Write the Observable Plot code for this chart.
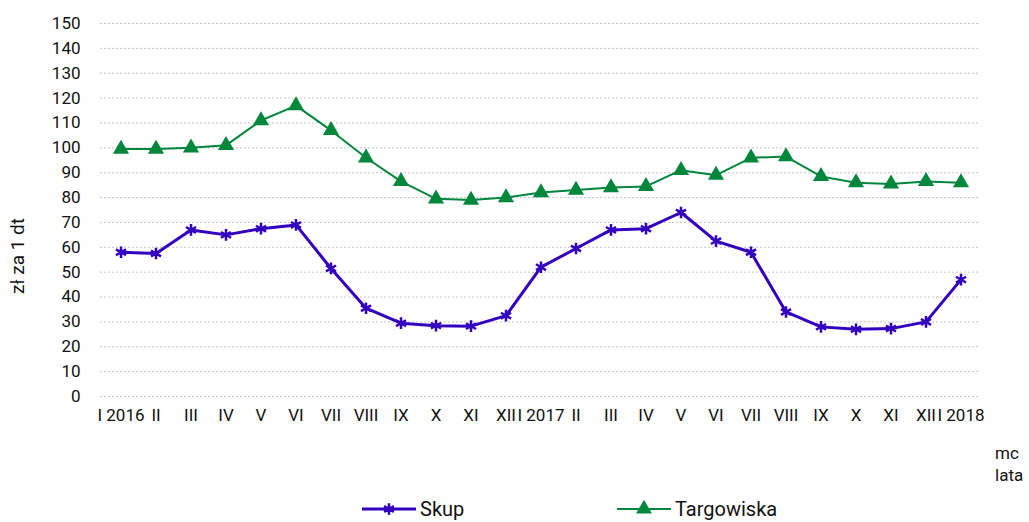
<!DOCTYPE html>
<html><head><meta charset="utf-8">
<script src="https://cdn.jsdelivr.net/npm/d3@7"></script>
<script src="https://cdn.jsdelivr.net/npm/@observablehq/plot@0.6"></script>
<style>
body{margin:0;background:#fff;font-family:Roboto,"Noto Sans",sans-serif;}
#wrap{position:relative;width:1029px;height:522px;}
#chart svg{font-size:17px !important;}
#chart svg g[aria-label$="axis tick label"] text{font-size:17px;fill:#111;}
#legend{position:absolute;left:0;top:494px;width:1029px;height:30px;font-size:20px;color:#111;}
.item{position:absolute;top:0;display:flex;align-items:center;height:30px;}
</style></head>
<body><div id="wrap"><div id="chart"></div><div id="legend"></div></div>
<script>
const months = ["I 2016","II","III","IV","V","VI","VII","VIII","IX","X","XI","XII",
  "I 2017","II","III","IV","V","VI","VII","VIII","IX","X","XI","XII","I 2018"];
const skup = [58,57.5,67,65,67.5,69,51.5,35.5,29.5,28.5,28.3,32.5,
  52,59.5,67,67.5,74,62.5,58,34,28,27,27.3,30,47];
const targowiska = [99.5,99.5,100,101,111,117,107,96,86.5,79.5,79,80,
  82,83,84,84.5,91,89,96,96.5,88.5,86,85.5,86.5,86];
const yTicks = d3.range(0,151,10);
const seriesNames = ["Skup","Targowiska"];
const colors = ["#3300c0","#00873c"];

const data = [];
months.forEach((m,i)=>{
  data.push({i, v: skup[i], s: seriesNames[0]});
  data.push({i, v: targowiska[i], s: seriesNames[1]});
});
const skupData = data.filter(d=>d.s==="Skup");
const targData = data.filter(d=>d.s==="Targowiska");

const chart = Plot.plot({
  width: 1029,
  height: 480,
  marginLeft: 100,
  marginRight: 49,
  marginTop: 23,
  marginBottom: 84,
  style: {fontFamily: "Roboto, 'Noto Sans', sans-serif", fontSize: "17px", color: "#111", overflow: "visible"},
  x: {type: "band", domain: d3.range(months.length), padding: 0},
  y: {domain: [0,150]},
  marks: [
    Plot.ruleY(yTicks, {stroke: "#c4c4c4", strokeDasharray: "2,2", strokeWidth: 1}),
    Plot.axisY({ticks: yTicks, tickSize: 0, tickPadding: 20, label: null, fontSize: 17}),
    Plot.axisX({tickSize: 0, tickPadding: 12, tickFormat: i => months[i], label: null, fontSize: 17}),
    Plot.line(targData, {x: "i", y: "v", stroke: colors[1], strokeWidth: 2}),
    Plot.dot(targData, {x: "i", y: "v", symbol: "triangle", fill: colors[1], r: 6}),
    Plot.line(skupData, {x: "i", y: "v", stroke: colors[0], strokeWidth: 3}),
    Plot.dot(skupData, {x: "i", y: "v", symbol: "asterisk", stroke: colors[0], strokeWidth: 2.5, r: 5.5})
  ]
});
document.getElementById("chart").appendChild(chart);

const svg = d3.select(chart);
svg.append("text").attr("transform","translate(24,256) rotate(-90)")
  .attr("text-anchor","middle").style("font-size","19px").attr("fill","#111").text("zł za 1 dt");
svg.append("text").attr("x",995).attr("y",459).attr("text-anchor","start").style("font-size","17px").attr("fill","#111").text("mc");
svg.append("text").attr("x",995).attr("y",481).attr("text-anchor","start").style("font-size","17px").attr("fill","#111").text("lata");

// legend
const legend = d3.select("#legend");
const items = [
  {name: seriesNames[0], color: colors[0], left: 362, sym: "asterisk"},
  {name: seriesNames[1], color: colors[1], left: 617, sym: "triangle"}
];
items.forEach(it=>{
  const div = legend.append("div").attr("class","item").style("left", it.left+"px");
  const s = div.append("svg").attr("width",54).attr("height",30);
  s.append("line").attr("x1",0).attr("x2",54).attr("y1",15).attr("y2",15)
    .attr("stroke",it.color).attr("stroke-width", it.sym==="asterisk"?3:2);
  const sym = it.sym==="asterisk" ? d3.symbolAsterisk : d3.symbolTriangle;
  const p = d3.symbol(sym, it.sym==="asterisk"?90:110)();
  s.append("path").attr("d",p).attr("transform","translate(27,15)")
    .attr("fill", it.sym==="asterisk"?"none":it.color)
    .attr("stroke", it.sym==="asterisk"?it.color:"none").attr("stroke-width",2.5);
  div.append("span").style("margin-left","4px").text(it.name);
});
</script></body></html>
